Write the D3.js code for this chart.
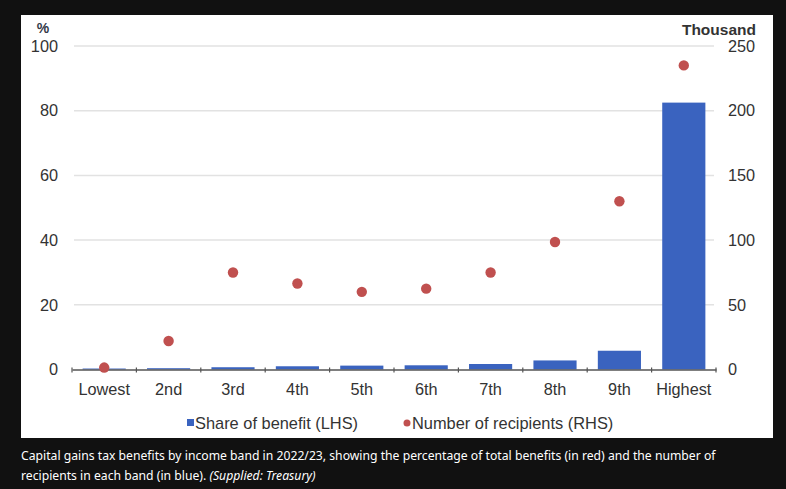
<!DOCTYPE html>
<html>
<head>
<meta charset="utf-8">
<script src="https://cdn.jsdelivr.net/npm/d3@7"></script>
<style>
  body { margin: 0; background: #111111; }
  svg { display: block; }
  .tick text { font-family: "Liberation Sans", Arial, sans-serif; font-size: 16.3px; fill: #333333; }
</style>
</head>
<body>
<svg id="chart"></svg>
<script>
// Income bands and values
const bands = ['Lowest', '2nd', '3rd', '4th', '5th', '6th', '7th', '8th', '9th', 'Highest'];
const shareOfBenefit = [0.3, 0.4, 0.7, 1.0, 1.2, 1.3, 1.7, 2.8, 5.8, 82.5];   // %, LHS
const recipients = [1.5, 22, 75, 66.5, 60, 62.5, 75, 98.5, 130, 235];      // thousand, RHS
const leftTicks = [0, 20, 40, 60, 80, 100];
const rightTicks = [0, 50, 100, 150, 200, 250];

const W = 786, H = 489;
const panel = {x: 21, y: 15, w: 752, h: 423};
const plot = {left: 72, right: 716, top: 46, bottom: 369.5};

const svg = d3.select('#chart').attr('width', W).attr('height', H);

svg.append('rect')
    .attr('x', panel.x).attr('y', panel.y)
    .attr('width', panel.w).attr('height', panel.h)
    .attr('fill', '#ffffff');

// Scales
const x = d3.scaleBand().domain(bands).range([plot.left, plot.right]).paddingInner(0.33).paddingOuter(0.165);
const xTicks = d3.scaleBand().domain(bands).range([plot.left, plot.right]);
const yL = d3.scaleLinear().domain([0, 100]).range([plot.bottom, plot.top]);
const yR = d3.scaleLinear().domain([0, 250]).range([plot.bottom, plot.top]);

// Gridlines
svg.append('g')
  .selectAll('line')
  .data(leftTicks.filter(d => d > 0))
  .join('line')
    .attr('x1', plot.left + 2).attr('x2', plot.right - 2)
    .attr('y1', d => yL(d)).attr('y2', d => yL(d))
    .attr('stroke', '#e2e2e2').attr('stroke-width', 1.5);

// Left axis
svg.append('g')
    .attr('transform', `translate(${plot.left - 14},0)`)
    .call(d3.axisLeft(yL).tickValues(leftTicks).tickSize(0).tickPadding(0))
    .call(g => g.select('.domain').remove());

// Right axis
svg.append('g')
    .attr('transform', `translate(${plot.right + 12},0)`)
    .call(d3.axisRight(yR).tickValues(rightTicks).tickSize(0).tickPadding(0))
    .call(g => g.select('.domain').remove());

svg.append('text')
    .attr('x', 43).attr('y', 33)
    .attr('text-anchor', 'middle')
    .style('font-family', '"Liberation Sans", Arial, sans-serif')
    .style('font-size', '14px').style('font-weight', 'bold').style('fill', '#333a48')
    .text('%');

svg.append('text')
    .attr('x', 756).attr('y', 35)
    .attr('text-anchor', 'end')
    .style('font-family', '"Liberation Sans", Arial, sans-serif')
    .style('font-size', '15.5px').style('font-weight', 'bold').style('fill', '#333')
    .text('Thousand');

// Bars
svg.append('g')
  .selectAll('rect')
  .data(bands)
  .join('rect')
    .attr('x', d => x(d))
    .attr('width', x.bandwidth())
    .attr('y', (d, i) => yL(shareOfBenefit[i]))
    .attr('height', (d, i) => yL(0) - yL(shareOfBenefit[i]))
    .attr('fill', '#3a63bf');

// X axis
const xAxisG = svg.append('g')
    .attr('transform', `translate(0,${plot.bottom})`)
    .call(d3.axisBottom(xTicks).tickSize(0).tickPadding(14));
xAxisG.select('.domain').attr('stroke', '#555').attr('stroke-width', 1.5);
xAxisG.selectAll('.boundary')
  .data(d3.range(bands.length + 1))
  .join('line')
    .attr('class', 'boundary')
    .attr('x1', i => plot.left + i * xTicks.step()).attr('x2', i => plot.left + i * xTicks.step())
    .attr('y1', -2).attr('y2', 3)
    .attr('stroke', '#555').attr('stroke-width', 1.2);

// Dots
svg.append('g')
  .selectAll('circle')
  .data(bands)
  .join('circle')
    .attr('cx', d => xTicks(d) + xTicks.bandwidth() / 2)
    .attr('cy', (d, i) => yR(recipients[i]))
    .attr('r', 5.2)
    .attr('fill', '#c0504f');

// Legend
const legend = svg.append('g')
    .style('font-family', '"Liberation Sans", Arial, sans-serif')
    .style('font-size', '16.4px').style('fill', '#333333');
legend.append('rect').attr('x', 187).attr('y', 419).attr('width', 7).attr('height', 7).attr('fill', '#3a63bf');
legend.append('text').attr('x', 195).attr('y', 429).text('Share of benefit (LHS)');
legend.append('circle').attr('cx', 407).attr('cy', 423).attr('r', 3.5).attr('fill', '#c0504f');
legend.append('text').attr('x', 412).attr('y', 429).text('Number of recipients (RHS)');

// Caption
const caption = svg.append('text')
    .style('font-family', '"Noto Sans", "Open Sans", sans-serif')
    .style('font-size', '12.2px').style('fill', '#ffffff');
caption.append('tspan').attr('x', 21).attr('y', 460)
    .text('Capital gains tax benefits by income band in 2022/23, showing the percentage of total benefits (in red) and the number of');
const line2 = caption.append('tspan').attr('x', 21).attr('y', 480);
line2.text('recipients in each band (in blue). ');
caption.append('tspan').style('font-style', 'italic').text('(Supplied: Treasury)');
</script>
</body>
</html>
